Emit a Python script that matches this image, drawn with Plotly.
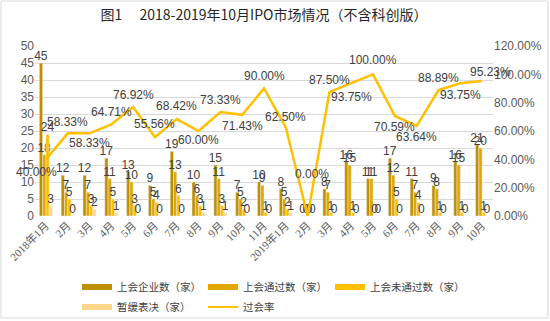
import plotly.graph_objects as go

# 月份
months = ["2018年1月", "2月", "3月", "4月", "5月", "6月", "7月", "8月", "9月", "10月", "11月",
          "2019年1月", "2月", "3月", "4月", "5月", "6月", "7月", "8月", "9月", "10月"]
# 每个类目需要唯一键，显示时用上面的月份名
keys = [f"m{i}" for i in range(len(months))]

meeting = [45, 12, 12, 17, 13, 9, 19, 10, 15, 7, 10, 8, 0, 8, 16, 11, 17, 11, 9, 16, 21]
passed = [18, 7, 7, 11, 10, 5, 13, 6, 11, 5, 9, 5, 0, 7, 15, 11, 12, 7, 8, 15, 20]
rejected = [24, 5, 3, 5, 3, 4, 6, 3, 3, 2, 1, 2, 0, 1, 1, 0, 5, 4, 1, 1, 1]
deferred = [3, 0, 2, 1, 0, 0, 0, 1, 1, 0, 0, 1, 0, 0, 0, 0, 0, 0, 0, 0, 0]
pass_rate = [0.40, 0.5833, 0.5833, 0.6471, 0.7692, 0.5556, 0.6842, 0.60, 0.7333, 0.7143, 0.90,
             0.625, 0.0, 0.875, 0.9375, 1.0, 0.7059, 0.6364, 0.8889, 0.9375, 0.9523]

# 过会率标签的偏移（像素）
rate_shift_y = [-13, 11, -10, 12, 12, 13, 13, -9, 12, -11, 13, 10, 42, 12, -14, 14, -11, -11, 12, -12, 9]
rate_shift_x = [-9, 0, 0, 0, 0, 0, 0, 0, 0, 0, 0, 0, 4, 0, 0, 0, 0, 0, 0, 0, 8]

c_meet = "#BF8F00"
c_pass = "#E0A800"
c_rej = "#FFC000"
c_def = "#FFD58A"
c_line = "#FFC000"

num_font = "Liberation Sans, Noto Sans CJK SC, sans-serif"
cjk_font = "Noto Sans CJK SC, Liberation Sans, sans-serif"
txt_col = "#404040"

W, H = 550, 321
L, R, T, B = 35, 57, 46, 105

fig = go.Figure()

series = [("上会企业数（家）", meeting, c_meet),
          ("上会通过数（家）", passed, c_pass),
          ("上会未通过数（家）", rejected, c_rej),
          ("暂缓表决（家）", deferred, c_def)]

for name, vals, col in series:
    fig.add_trace(go.Bar(
        x=keys, y=vals, name=name, marker_color=col, showlegend=False,
        text=[str(v) for v in vals], textposition="outside", constraintext="none",
        cliponaxis=False, textfont=dict(family=num_font, size=12, color=txt_col),
        hoverinfo="skip",
    ))

fig.add_trace(go.Scatter(
    x=keys, y=pass_rate, yaxis="y2", mode="lines", name="过会率", showlegend=False,
    line=dict(color=c_line, width=2.5), cliponaxis=False,
))

# 图例：两行，每个条目单独放置（像素位置：文字左端 x、行中心 y）
legend_items = [(series[0][0], c_meet, 6, 77, 287),
                (series[1][0], c_pass, 6, 203, 287),
                (series[2][0], c_rej, 6, 330, 287),
                (series[3][0], c_def, 6, 77, 307),
                ("过会率", c_line, 2, 203, 307)]
legend_layouts = {}
for i, (name, col, lw, px, py) in enumerate(legend_items):
    lid = "legend" if i == 0 else f"legend{i + 1}"
    fig.add_trace(go.Scatter(x=[None], y=[None], mode="lines", name=name, legend=lid,
                             line=dict(color=col, width=lw)))
    legend_layouts[lid] = dict(
        x=px / W, y=1 - py / H, xref="container", yref="container",
        xanchor="left", yanchor="middle", itemwidth=30, bgcolor="rgba(0,0,0,0)",
        font=dict(family=cjk_font, size=10.5, color="#404040"),
    )

for k, r, dy, dx in zip(keys, pass_rate, rate_shift_y, rate_shift_x):
    fig.add_annotation(x=k, y=r, yref="y2", text=f"{r*100:.2f}%", showarrow=False,
                       yshift=dy, xshift=dx,
                       font=dict(family=num_font, size=12, color=txt_col))

# 外框
pw, ph = W - L - R, H - T - B
fig.add_shape(type="rect", xref="paper", yref="paper",
              x0=(1 - L) / pw, x1=(W - L - 2) / pw,
              y0=-(B - 3) / ph, y1=1 + (T - 1) / ph,
              line=dict(color="#D9D9D9", width=1), fillcolor="rgba(0,0,0,0)", layer="below")

fig.update_layout(
    width=W, height=H,
    margin=dict(l=L, r=R, t=T, b=B, autoexpand=False),
    paper_bgcolor="white", plot_bgcolor="white",
    barmode="group", bargap=0.4, bargroupgap=0,
    title=dict(text="图1　 2018-2019年10月IPO市场情况（不含科创版）", x=0.5, xref="paper",
               xanchor="center", y=0.953, yanchor="middle",
               font=dict(family=cjk_font, size=14, color="#262626")),
    xaxis=dict(tickmode="array", tickvals=keys, ticktext=months, tickangle=-45,
               range=[-0.5, len(keys) - 0.5],
               tickfont=dict(family="Liberation Serif, Noto Sans CJK SC, serif", size=11, color="#595959"),
               showgrid=False, zeroline=False, showline=False, ticks="", automargin=False),
    yaxis=dict(range=[0, 50], dtick=5, showgrid=True, gridcolor="#D9D9D9", gridwidth=1,
               zeroline=False, showline=False, ticks="", automargin=False,
               tickfont=dict(family=num_font, size=12, color="#595959")),
    yaxis2=dict(range=[0, 1.2], dtick=0.2, tickformat=".2%", overlaying="y", side="right",
                showgrid=False, zeroline=False, showline=False, ticks="", automargin=False,
                tickfont=dict(family=num_font, size=12, color="#595959")),
    showlegend=True,
    **legend_layouts,
)

fig.write_html("out.html")
